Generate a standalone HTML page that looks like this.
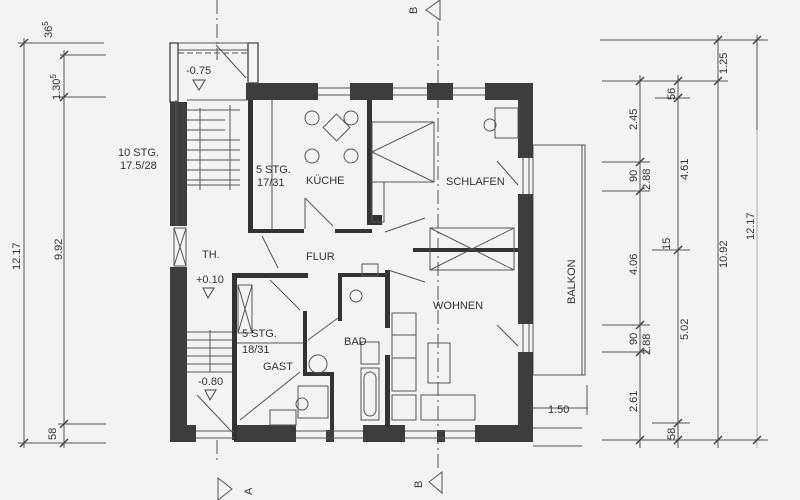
<!DOCTYPE html>
<html><head><meta charset="utf-8"><style>
html,body{margin:0;padding:0;background:#f3f3f1;}
svg{display:block;}
text{font-family:"Liberation Sans Narrow","Liberation Sans",sans-serif;fill:#333;font-size:11px;}
</style></head><body>
<svg width="800" height="500" viewBox="0 0 800 500" xmlns="http://www.w3.org/2000/svg">
<rect width="800" height="500" fill="#f3f3f1"/>
<g stroke="#555" stroke-width="1" fill="none">
<line x1="24" y1="38" x2="24" y2="448"/>
<line x1="64" y1="50" x2="64" y2="448"/>
<line x1="18" y1="43" x2="104" y2="43"/>
<line x1="60" y1="55" x2="106" y2="55"/>
<line x1="60" y1="97" x2="106" y2="97"/>
<line x1="58" y1="424" x2="106" y2="424"/>
<line x1="18" y1="443" x2="106" y2="443"/>
<line x1="640" y1="75" x2="640" y2="448"/>
<line x1="678" y1="75" x2="678" y2="448"/>
<line x1="718" y1="35" x2="718" y2="448"/>
<line x1="757" y1="35" x2="757" y2="130"/>
<line x1="757" y1="130" x2="757" y2="448" stroke="#aaa"/>
<line x1="600" y1="40" x2="768" y2="40"/>
<line x1="602" y1="81" x2="728" y2="81"/>
<line x1="655" y1="98" x2="690" y2="98"/>
<line x1="602" y1="162" x2="650" y2="162"/>
<line x1="602" y1="191" x2="650" y2="191"/>
<line x1="602" y1="325" x2="650" y2="325"/>
<line x1="602" y1="352" x2="650" y2="352"/>
<line x1="652" y1="250" x2="690" y2="250"/>
<line x1="652" y1="423" x2="690" y2="423"/>
<line x1="602" y1="440" x2="768" y2="440"/>
<line x1="533" y1="408" x2="588" y2="408"/>
<line x1="587" y1="385" x2="587" y2="415"/>
<line x1="533" y1="428" x2="582" y2="428"/>
<line x1="533" y1="446" x2="582" y2="446"/>
<rect x="533" y="145" width="52" height="230"/>
<line x1="582" y1="145" x2="582" y2="375"/>
<line x1="438" y1="22" x2="438" y2="470" stroke-dasharray="14,4,2,4"/>
<line x1="217" y1="0" x2="217" y2="60" stroke-dasharray="14,4,2,4"/>
<line x1="217" y1="440" x2="217" y2="462" stroke-dasharray="14,4,2,4"/>
<polygon points="426,10 440,0 440,20"/>
<polygon points="429,482 442,472 442,493"/>
<polygon points="218,478 232,489 218,500"/>
</g>
<g stroke="#444" stroke-width="1.5">
<line x1="20" y1="47" x2="28" y2="39"/><line x1="60" y1="59" x2="68" y2="51"/><line x1="60" y1="101" x2="68" y2="93"/>
<line x1="60" y1="428" x2="68" y2="420"/><line x1="20" y1="447" x2="28" y2="439"/><line x1="60" y1="447" x2="68" y2="439"/>
<line x1="636" y1="85" x2="644" y2="77"/><line x1="674" y1="85" x2="682" y2="77"/><line x1="714" y1="85" x2="722" y2="77"/>
<line x1="714" y1="44" x2="722" y2="36"/><line x1="753" y1="44" x2="761" y2="36"/><line x1="674" y1="102" x2="682" y2="94"/>
<line x1="636" y1="166" x2="644" y2="158"/><line x1="636" y1="195" x2="644" y2="187"/>
<line x1="636" y1="329" x2="644" y2="321"/><line x1="636" y1="356" x2="644" y2="348"/>
<line x1="674" y1="254" x2="682" y2="246"/><line x1="674" y1="427" x2="682" y2="419"/>
<line x1="636" y1="444" x2="644" y2="436"/><line x1="674" y1="444" x2="682" y2="436"/><line x1="714" y1="444" x2="722" y2="436"/><line x1="753" y1="444" x2="761" y2="436"/>
</g>
<g fill="#3d3d3d">
<rect x="248" y="83" width="70" height="17"/>
<rect x="350" y="83" width="43" height="17"/>
<rect x="427" y="83" width="26" height="17"/>
<rect x="485" y="83" width="48" height="17"/>
<rect x="518" y="83" width="15" height="75"/>
<rect x="518" y="194" width="15" height="130"/>
<rect x="518" y="352" width="15" height="90"/>
<rect x="170" y="102" width="17" height="124"/>
<rect x="170" y="267" width="17" height="175"/>
<rect x="170" y="425" width="26" height="17"/>
<rect x="234" y="425" width="62" height="17"/>
<rect x="326" y="430" width="8" height="12"/>
<rect x="363" y="425" width="42" height="17"/>
<rect x="437" y="430" width="8" height="12"/>
<rect x="475" y="425" width="58" height="17"/>
<rect x="246" y="83" width="12" height="17"/>
</g>
<g stroke="#444" fill="none" stroke-width="1.3">
<rect x="170" y="43" width="8" height="59"/>
<rect x="248" y="43" width="10" height="40"/>
</g>
<g fill="#333">
<rect x="248" y="100" width="5" height="133"/>
<rect x="248" y="229" width="56" height="4"/>
<rect x="335" y="229" width="37" height="4"/>
<rect x="367" y="100" width="5" height="122"/>
<rect x="367" y="215" width="15" height="10"/>
<rect x="413" y="248" width="105" height="4"/>
<rect x="232" y="273" width="5" height="167"/>
<rect x="232" y="273" width="76" height="5"/>
<rect x="303" y="311" width="4" height="64"/>
<rect x="303" y="372" width="30" height="4"/>
<rect x="330" y="372" width="4" height="60"/>
<rect x="338" y="273" width="4" height="48"/>
<rect x="338" y="273" width="50" height="4"/>
<rect x="385" y="270" width="5" height="58"/>
<rect x="385" y="355" width="5" height="72"/>
</g>
<g stroke="#555" fill="none" stroke-width="1">
<line x1="318" y1="88" x2="350" y2="88"/><line x1="318" y1="95" x2="350" y2="95"/>
<line x1="393" y1="88" x2="427" y2="88"/><line x1="393" y1="95" x2="427" y2="95"/>
<line x1="453" y1="88" x2="485" y2="88"/><line x1="453" y1="95" x2="485" y2="95"/>
<line x1="523" y1="158" x2="523" y2="194"/><line x1="529" y1="158" x2="529" y2="194"/>
<line x1="523" y1="324" x2="523" y2="352"/><line x1="529" y1="324" x2="529" y2="352"/>
<line x1="196" y1="431" x2="234" y2="431"/><line x1="296" y1="431" x2="363" y2="431"/><line x1="405" y1="431" x2="475" y2="431"/>
<line x1="196" y1="438" x2="234" y2="438"/><line x1="296" y1="438" x2="363" y2="438"/><line x1="405" y1="438" x2="475" y2="438"/>
<rect x="174" y="228" width="12" height="38"/><line x1="174" y1="228" x2="186" y2="266"/><line x1="186" y1="228" x2="174" y2="266"/>
<line x1="178" y1="43" x2="258" y2="43"/>
<line x1="178" y1="50" x2="248" y2="50"/>
<line x1="178" y1="53" x2="248" y2="53" stroke-dasharray="6,3"/>
<line x1="216" y1="45" x2="246" y2="78"/>
<line x1="176" y1="100" x2="176" y2="226"/>
<line x1="187" y1="100" x2="248" y2="100"/>
<line x1="187" y1="110" x2="240" y2="110"/><line x1="187" y1="120" x2="225" y2="120"/><line x1="187" y1="130" x2="225" y2="130"/><line x1="187" y1="140" x2="240" y2="140"/><line x1="187" y1="150" x2="240" y2="150"/><line x1="187" y1="160" x2="240" y2="160"/><line x1="187" y1="170" x2="240" y2="170"/><line x1="187" y1="180" x2="240" y2="180"/><line x1="187" y1="185" x2="240" y2="185"/>
<line x1="187" y1="332" x2="232" y2="332"/><line x1="187" y1="340" x2="232" y2="340"/><line x1="187" y1="348" x2="232" y2="348"/><line x1="187" y1="356" x2="232" y2="356"/><line x1="187" y1="364" x2="232" y2="364"/><line x1="187" y1="372" x2="232" y2="372"/>
<line x1="200" y1="108" x2="200" y2="190"/><line x1="230" y1="105" x2="230" y2="190"/>
<line x1="210" y1="330" x2="210" y2="372"/>
<line x1="197" y1="395" x2="232" y2="432"/>
<polygon points="327,118 346,118 346,137 327,137" transform="rotate(45 336.5 127.5)"/>
<circle cx="312" cy="118" r="7"/><circle cx="351" cy="118" r="7"/><circle cx="312" cy="156" r="7"/><circle cx="351" cy="156" r="7"/>
<line x1="272" y1="100" x2="272" y2="229"/>
<line x1="305" y1="198" x2="333" y2="226"/><line x1="305" y1="198" x2="305" y2="229"/>
<rect x="372" y="122" width="62" height="60"/>
<line x1="372" y1="152" x2="434" y2="122"/><line x1="372" y1="152" x2="434" y2="182"/>
<rect x="372" y="182" width="12" height="40"/>
<rect x="495" y="108" width="23" height="30"/><circle cx="490" cy="125" r="6"/>
<line x1="497" y1="161" x2="518" y2="185"/>
<rect x="430" y="228" width="84" height="42"/><line x1="430" y1="228" x2="514" y2="270"/><line x1="430" y1="270" x2="514" y2="228"/>
<line x1="385" y1="232" x2="425" y2="218"/><line x1="388" y1="270" x2="425" y2="282"/>
<rect x="392" y="313" width="24" height="78"/><line x1="392" y1="335" x2="416" y2="335"/><line x1="392" y1="358" x2="416" y2="358"/>
<rect x="428" y="343" width="22" height="40"/>
<rect x="392" y="395" width="24" height="25"/><rect x="421" y="395" width="54" height="25"/>
<line x1="497" y1="325" x2="518" y2="346"/>
<rect x="238" y="285" width="14" height="48"/><line x1="238" y1="285" x2="252" y2="333"/><line x1="252" y1="285" x2="238" y2="333"/>
<line x1="237" y1="343" x2="303" y2="343"/>
<line x1="262" y1="236" x2="278" y2="268"/>
<line x1="270" y1="280" x2="300" y2="310"/>
<line x1="300" y1="372" x2="240" y2="420"/>
<rect x="298" y="386" width="30" height="32"/><circle cx="302" cy="404" r="6"/>
<rect x="270" y="410" width="26" height="15"/>
<circle cx="318" cy="364" r="9"/>
<circle cx="356" cy="296" r="6"/>
<rect x="362" y="264" width="16" height="12"/>
<rect x="361" y="342" width="18" height="22"/>
<rect x="361" y="368" width="18" height="52"/>
<rect x="364" y="372" width="12" height="44" rx="6"/>
<line x1="308" y1="340" x2="338" y2="318"/>
</g>
<text x="186" y="74" font-size="12">-0.75</text>
<polygon points="193,80 205,80 199,90" fill="none" stroke="#444"/>
<text x="118" y="156" font-size="10">10 STG.</text>
<text x="120" y="169" font-size="10">17.5/28</text>
<text x="256" y="173" font-size="11">5 STG.</text>
<text x="257" y="186" font-size="11">17/31</text>
<text x="306" y="184" font-size="12">KÜCHE</text>
<text x="446" y="185" font-size="12">SCHLAFEN</text>
<text x="306" y="260" font-size="12">FLUR</text>
<text x="202" y="258" font-size="12">TH.</text>
<text x="196" y="283" font-size="12">+0.10</text>
<polygon points="203,288 214,288 208,298" fill="none" stroke="#444"/>
<text x="242" y="337" font-size="11">5 STG.</text>
<text x="242" y="353" font-size="11">18/31</text>
<text x="263" y="370" font-size="12">GAST</text>
<text x="344" y="345" font-size="12">BAD</text>
<text x="433" y="309" font-size="12">WOHNEN</text>
<text x="198" y="385" font-size="12">-0.80</text>
<polygon points="205,390 216,390 210,400" fill="none" stroke="#444"/>
<text x="546" y="305" font-size="11" transform="rotate(-90 560 290)">BALKON</text>
<text x="548" y="413" font-size="11">1.50</text>
<g font-size="11">
<text transform="translate(20,270) rotate(-90)">12.17</text>
<text transform="translate(62,260) rotate(-90)">9.92</text>
<text transform="translate(52,38) rotate(-90)">36<tspan dy="-4" font-size="8">5</tspan></text>
<text transform="translate(60,100) rotate(-90)">1.30<tspan dy="-4" font-size="8">5</tspan></text>
<text transform="translate(56,440) rotate(-90)">58</text>
<text transform="translate(637,130) rotate(-90)">2.45</text>
<text transform="translate(637,182) rotate(-90)">90</text>
<text transform="translate(637,275) rotate(-90)">4.06</text>
<text transform="translate(637,345) rotate(-90)">90</text>
<text transform="translate(637,412) rotate(-90)">2.61</text>
<text transform="translate(650,190) rotate(-90)">2.88</text>
<text transform="translate(650,355) rotate(-90)">2.88</text>
<text transform="translate(675,100) rotate(-90)">56</text>
<text transform="translate(675,440) rotate(-90)">58</text>
<text transform="translate(670,250) rotate(-90)">15</text>
<text transform="translate(688,180) rotate(-90)">4.61</text>
<text transform="translate(688,340) rotate(-90)">5.02</text>
<text transform="translate(727,268) rotate(-90)">10.92</text>
<text transform="translate(754,240) rotate(-90)">12.17</text>
<text transform="translate(727,74) rotate(-90)">1.25</text>
<text font-size="13" transform="translate(417,14) rotate(-90)">B</text>
<text font-size="13" transform="translate(422,488) rotate(-90)">B</text>
<text font-size="13" transform="translate(252,495) rotate(-90)">A</text>
</g>
</svg>
</body></html>
